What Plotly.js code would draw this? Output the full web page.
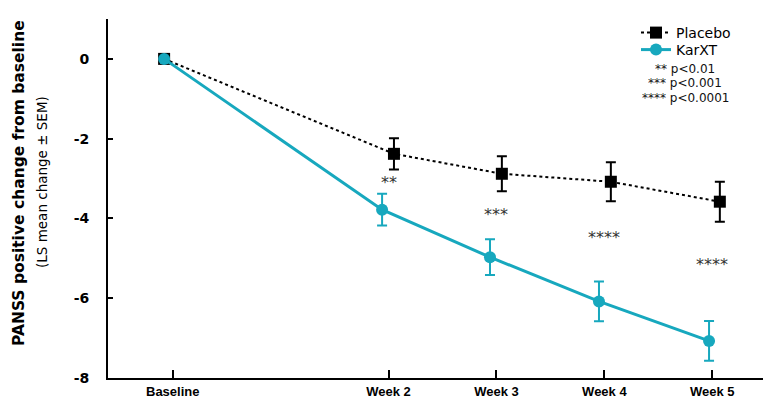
<!DOCTYPE html>
<html>
<head>
<meta charset="utf-8">
<script src="https://cdn.plot.ly/plotly-3.0.1.min.js"></script>
<style>html,body{margin:0;padding:0;background:#fff;}#chart{width:775px;height:413px;}</style>
</head>
<body>
<div id="chart"></div>
<script>
// Tick positions (weeks) and labels
const tickVals = [0, 2, 3, 4, 5];
const tickLabels = ["Baseline", "Week 2", "Week 3", "Week 4", "Week 5"];
const yTickVals = [0, -2, -4, -6, -8];
const yTickLabels = ["0", "-2", "-4", "-6", "-8"];

// Placebo series (points drawn slightly right of tick)
const placeboX = [-0.08, 2.05, 3.05, 4.06, 5.07];
const placeboY = [0, -2.38, -2.88, -3.08, -3.58];
const placeboErr = [0, 0.39, 0.44, 0.49, 0.50];

// KarXT series (points drawn slightly left of tick)
const karxtX = [-0.08, 1.94, 2.94, 3.95, 4.97];
const karxtY = [0, -3.78, -4.97, -6.08, -7.07];
const karxtErr = [0, 0.40, 0.45, 0.50, 0.50];

// Significance markers
const sigX = [2, 3, 4, 5];
const sigY = [-3.1, -3.9, -4.48, -5.16];
const sigText = ["**", "***", "****", "****"];

// Legend footnote lines
const pNotes = ["** p<0.01", "*** p<0.001", "**** p<0.0001"];

const teal = "#17a8be";

const W = 775, H = 413, mL = 108, mR = 12, mT = 19, mB = 35;
const px2x = p => (p - mL) / (W - mL - mR);
const px2y = p => (H - mB - p) / (H - mT - mB);

const traces = [
  {
    name: "Placebo", x: placeboX, y: placeboY, type: "scatter", mode: "lines+markers",
    line: {color: "#000", width: 2, dash: "dot"},
    marker: {symbol: "square", size: 12, color: "#000"},
    error_y: {type: "data", array: placeboErr, visible: true, color: "#000", thickness: 2, width: 5},
    legend: "legend"
  },
  {
    name: "KarXT", x: karxtX, y: karxtY, type: "scatter", mode: "lines+markers",
    line: {color: teal, width: 3},
    marker: {symbol: "circle", size: 12, color: teal},
    error_y: {type: "data", array: karxtErr, visible: true, color: teal, thickness: 2, width: 5},
    legend: "legend2"
  }
];

const annotations = sigX.map((x, i) => ({
  x: x, y: sigY[i], xref: "x", yref: "y", text: sigText[i], showarrow: false,
  xanchor: "center", yanchor: "middle",
  font: {family: "DejaVu Sans, sans-serif", size: 16, color: "#333"}
}));

pNotes.forEach((t, i) => {
  annotations.push({
    x: px2x(685), y: px2y(69 + i * 14.5), xref: "paper", yref: "paper", text: t, showarrow: false,
    xanchor: "center", yanchor: "middle",
    font: {family: "DejaVu Sans, sans-serif", size: 12, color: "#111"}
  });
});

annotations.push({
  x: px2x(19), y: px2y(183), xref: "paper", yref: "paper", textangle: -90, showarrow: false,
  xanchor: "center", yanchor: "middle",
  text: "PANSS positive change from baseline",
  font: {family: "DejaVu Sans, sans-serif", size: 15.5, color: "#000", weight: "bold"}
});
annotations.push({
  x: px2x(42), y: px2y(182), xref: "paper", yref: "paper", textangle: -90, showarrow: false,
  xanchor: "center", yanchor: "middle",
  text: "(LS mean change ± SEM)",
  font: {family: "DejaVu Sans, sans-serif", size: 13.5, color: "#000"}
});

const legendBase = {
  xanchor: "left", yanchor: "top",
  font: {family: "DejaVu Sans, sans-serif", size: 14, color: "#000"},
  bgcolor: "rgba(0,0,0,0)", itemwidth: 30, tracegroupgap: 0
};

const layout = {
  width: W, height: H,
  margin: {l: mL, r: mR, t: mT, b: mB},
  paper_bgcolor: "#fff", plot_bgcolor: "#fff",
  showlegend: true,
  legend: Object.assign({}, legendBase, {x: px2x(636), y: px2y(17)}),
  legend2: Object.assign({}, legendBase, {x: px2x(636), y: px2y(34)}),
  xaxis: {
    range: [-0.6, 5.47], tickvals: tickVals, ticktext: tickLabels,
    showgrid: false, zeroline: false, showline: true, linecolor: "#000", linewidth: 2,
    ticks: "inside", ticklen: 8, tickwidth: 2, tickcolor: "#000",
    tickfont: {family: "Liberation Sans, Arial, sans-serif", size: 13, color: "#000", weight: "bold"}
  },
  yaxis: {
    range: [-8, 1.0], tickvals: yTickVals, ticktext: yTickLabels,
    showgrid: false, zeroline: false, showline: true, linecolor: "#000", linewidth: 2,
    ticks: "inside", ticklen: 5, tickwidth: 2, tickcolor: "#000", ticklabelstandoff: 14,
    tickfont: {family: "DejaVu Sans, sans-serif", size: 14, color: "#000", weight: "bold"}
  },
  annotations: annotations
};

Plotly.newPlot("chart", traces, layout, {displayModeBar: false, staticPlot: true});
</script>
</body>
</html>
